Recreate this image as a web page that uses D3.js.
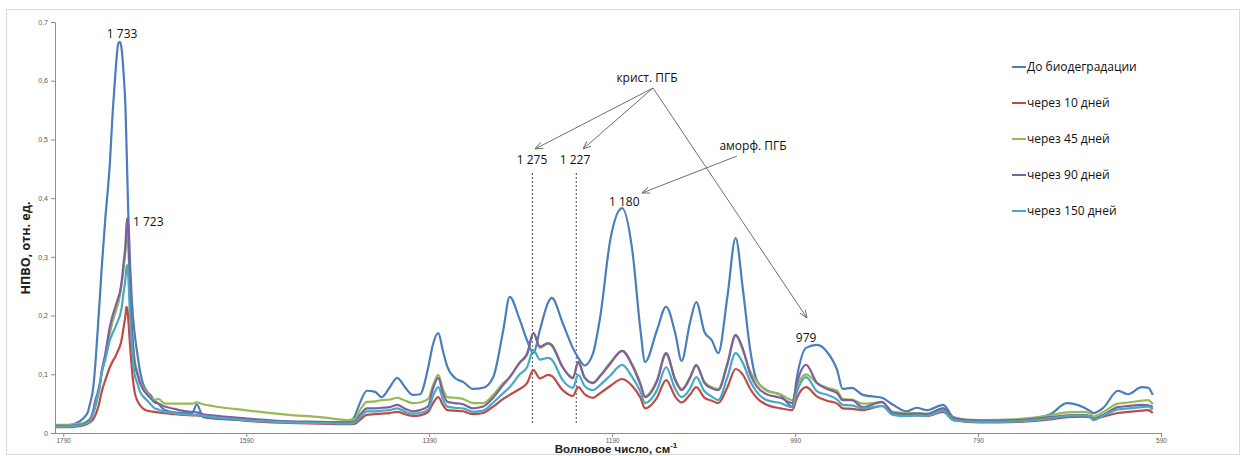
<!DOCTYPE html>
<html>
<head>
<meta charset="utf-8">
<script src="https://cdn.jsdelivr.net/npm/d3@7/dist/d3.min.js"></script>
<style>
  body { margin: 0; background: #fff; }
  svg { font-family: "Open Sans", sans-serif; }
</style>
</head>
<body>
<div id="chart-area"></div>
<script>
const WIDTH = 1245;
const HEIGHT = 456;

// wavenumbers (cm-1), shared by all series
const wavenumbers = [
  1799, 1786, 1777, 1768, 1763, 1761, 1757, 1755, 1753, 1750,
  1748, 1744, 1739, 1736, 1733, 1731, 1730, 1728, 1726, 1724,
  1722, 1721, 1720, 1719, 1717, 1715, 1712, 1709, 1706, 1703,
  1698, 1695, 1690, 1686, 1679, 1668, 1660, 1649, 1644, 1637,
  1627, 1591, 1544, 1509, 1479, 1471, 1466, 1458, 1449, 1442,
  1433, 1425, 1416, 1408, 1400, 1391, 1386, 1380, 1375, 1370,
  1362, 1353, 1342, 1331, 1320, 1309, 1302, 1291, 1283, 1276,
  1269, 1260, 1256, 1244, 1233, 1227, 1220, 1211, 1203, 1192,
  1179, 1168, 1159, 1154, 1141, 1131, 1121, 1114, 1105, 1098,
  1089, 1081, 1074, 1064, 1055, 1047, 1039, 1032, 1021, 1006,
  993, 988, 978, 966, 955, 944, 938, 928, 916, 895,
  883, 868, 857, 846, 828, 817, 788, 744, 711, 693,
  675, 668, 664, 653, 637, 626, 611, 604, 599
];

const before = [
  0.010, 0.012, 0.016, 0.025, 0.036, 0.048, 0.080, 0.115, 0.160, 0.230,
  0.280, 0.365, 0.460, 0.545, 0.612, 0.650, 0.663, 0.666, 0.652, 0.612,
  0.555, 0.500, 0.440, 0.380, 0.290, 0.225, 0.170, 0.135, 0.105, 0.085,
  0.070, 0.065, 0.055, 0.050, 0.039, 0.035, 0.034, 0.034, 0.049, 0.027,
  0.025, 0.022, 0.019, 0.018, 0.018, 0.030, 0.050, 0.072, 0.070, 0.061,
  0.078, 0.094, 0.077, 0.065, 0.066, 0.112, 0.150, 0.170, 0.140, 0.112,
  0.094, 0.087, 0.075, 0.077, 0.095, 0.175, 0.232, 0.193, 0.158, 0.136,
  0.175, 0.222, 0.230, 0.187, 0.145, 0.128, 0.115, 0.135, 0.198, 0.329,
  0.383, 0.312, 0.175, 0.121, 0.175, 0.215, 0.170, 0.123, 0.187, 0.223,
  0.172, 0.158, 0.136, 0.232, 0.332, 0.244, 0.141, 0.090, 0.073, 0.065,
  0.045, 0.095, 0.145, 0.150, 0.138, 0.107, 0.075, 0.077, 0.065, 0.060,
  0.048, 0.037, 0.043, 0.039, 0.048, 0.027, 0.019, 0.022, 0.032, 0.051,
  0.044, 0.038, 0.034, 0.043, 0.072, 0.066, 0.078, 0.077, 0.065
];

const days10 = [
  0.010, 0.010, 0.011, 0.013, 0.016, 0.018, 0.024, 0.030, 0.038, 0.055,
  0.070, 0.090, 0.112, 0.122, 0.130, 0.137, 0.141, 0.148, 0.160, 0.180,
  0.200, 0.215, 0.212, 0.195, 0.150, 0.110, 0.070, 0.055, 0.047, 0.042,
  0.038, 0.037, 0.036, 0.035, 0.034, 0.032, 0.031, 0.030, 0.030, 0.028,
  0.026, 0.021, 0.017, 0.016, 0.015, 0.016, 0.022, 0.031, 0.032, 0.033,
  0.034, 0.036, 0.032, 0.029, 0.030, 0.036, 0.050, 0.061, 0.048, 0.039,
  0.038, 0.037, 0.032, 0.034, 0.045, 0.058, 0.065, 0.075, 0.085, 0.107,
  0.093, 0.099, 0.097, 0.073, 0.063, 0.078, 0.066, 0.060, 0.068, 0.080,
  0.092, 0.080, 0.060, 0.042, 0.060, 0.090, 0.062, 0.052, 0.065, 0.078,
  0.060, 0.055, 0.051, 0.078, 0.109, 0.099, 0.075, 0.060, 0.048, 0.042,
  0.039, 0.060, 0.078, 0.062, 0.055, 0.050, 0.042, 0.041, 0.039, 0.046,
  0.032, 0.030, 0.030, 0.029, 0.036, 0.022, 0.018, 0.019, 0.023, 0.027,
  0.028, 0.027, 0.024, 0.028, 0.034, 0.036, 0.038, 0.039, 0.034
];

const days45 = [
  0.014, 0.014, 0.015, 0.017, 0.021, 0.024, 0.035, 0.045, 0.055, 0.080,
  0.100, 0.130, 0.170, 0.190, 0.205, 0.215, 0.220, 0.235, 0.255, 0.280,
  0.310, 0.335, 0.340, 0.320, 0.240, 0.180, 0.125, 0.105, 0.088, 0.078,
  0.068, 0.062, 0.056, 0.058, 0.050, 0.050, 0.050, 0.050, 0.052, 0.049,
  0.046, 0.039, 0.031, 0.027, 0.022, 0.024, 0.038, 0.053, 0.054, 0.056,
  0.057, 0.060, 0.055, 0.051, 0.052, 0.058, 0.080, 0.099, 0.075, 0.061,
  0.060, 0.058, 0.051, 0.051, 0.065, 0.085, 0.095, 0.120, 0.133, 0.170,
  0.145, 0.152, 0.148, 0.112, 0.095, 0.119, 0.095, 0.086, 0.098, 0.120,
  0.140, 0.117, 0.085, 0.063, 0.090, 0.134, 0.092, 0.075, 0.095, 0.114,
  0.087, 0.078, 0.075, 0.119, 0.165, 0.141, 0.105, 0.088, 0.072, 0.066,
  0.056, 0.080, 0.100, 0.085, 0.077, 0.072, 0.058, 0.057, 0.050, 0.052,
  0.036, 0.034, 0.034, 0.033, 0.042, 0.026, 0.022, 0.024, 0.030, 0.035,
  0.036, 0.034, 0.028, 0.036, 0.050, 0.052, 0.055, 0.056, 0.049
];

const days90 = [
  0.012, 0.012, 0.013, 0.015, 0.020, 0.022, 0.040, 0.055, 0.065, 0.085,
  0.105, 0.135, 0.181, 0.200, 0.215, 0.225, 0.230, 0.240, 0.260, 0.290,
  0.320, 0.350, 0.366, 0.350, 0.250, 0.180, 0.120, 0.100, 0.085, 0.075,
  0.065, 0.060, 0.052, 0.050, 0.045, 0.041, 0.038, 0.036, 0.035, 0.032,
  0.030, 0.025, 0.020, 0.019, 0.018, 0.020, 0.030, 0.042, 0.042, 0.043,
  0.044, 0.048, 0.041, 0.037, 0.039, 0.046, 0.075, 0.094, 0.068, 0.053,
  0.051, 0.049, 0.042, 0.045, 0.060, 0.082, 0.095, 0.120, 0.135, 0.170,
  0.147, 0.153, 0.150, 0.112, 0.093, 0.121, 0.094, 0.085, 0.097, 0.118,
  0.140, 0.115, 0.082, 0.061, 0.088, 0.136, 0.090, 0.073, 0.093, 0.116,
  0.085, 0.076, 0.073, 0.117, 0.167, 0.143, 0.100, 0.080, 0.066, 0.060,
  0.051, 0.085, 0.116, 0.085, 0.075, 0.068, 0.056, 0.056, 0.044, 0.053,
  0.034, 0.032, 0.033, 0.032, 0.042, 0.025, 0.021, 0.022, 0.027, 0.030,
  0.031, 0.029, 0.024, 0.031, 0.044, 0.046, 0.048, 0.047, 0.044
];

const days150 = [
  0.011, 0.011, 0.012, 0.014, 0.018, 0.020, 0.035, 0.045, 0.060, 0.080,
  0.102, 0.125, 0.158, 0.170, 0.180, 0.188, 0.192, 0.200, 0.215, 0.240,
  0.262, 0.280, 0.286, 0.270, 0.200, 0.150, 0.100, 0.085, 0.070, 0.063,
  0.055, 0.050, 0.042, 0.040, 0.036, 0.034, 0.032, 0.031, 0.031, 0.029,
  0.027, 0.022, 0.018, 0.017, 0.016, 0.018, 0.026, 0.037, 0.037, 0.038,
  0.039, 0.042, 0.036, 0.033, 0.034, 0.040, 0.062, 0.078, 0.058, 0.045,
  0.043, 0.042, 0.036, 0.038, 0.052, 0.068, 0.078, 0.100, 0.112, 0.141,
  0.125, 0.128, 0.125, 0.090, 0.077, 0.099, 0.080, 0.073, 0.082, 0.098,
  0.116, 0.095, 0.070, 0.051, 0.073, 0.112, 0.075, 0.061, 0.075, 0.095,
  0.071, 0.062, 0.056, 0.095, 0.136, 0.119, 0.088, 0.070, 0.056, 0.051,
  0.044, 0.070, 0.095, 0.071, 0.065, 0.057, 0.048, 0.047, 0.042, 0.046,
  0.031, 0.029, 0.030, 0.029, 0.038, 0.022, 0.019, 0.020, 0.025, 0.029,
  0.030, 0.028, 0.022, 0.030, 0.040, 0.042, 0.044, 0.045, 0.040
];

const seriesNames = ["До биодеградации", "через 10 дней", "через 45 дней", "через 90 дней", "через 150 дней"];
const seriesColors = ["#4a7ebb", "#be4b48", "#98b954", "#7d60a0", "#46aac5"];
const seriesValues = [before, days10, days45, days90, days150];

const xTicks = [1790, 1590, 1390, 1190, 990, 790, 590];
const yTicks = [0, 0.1, 0.2, 0.3, 0.4, 0.5, 0.6, 0.7];

// peak labels: [wavenumber, text, dx, y]
const peakLabels = [
  [1730, "1 733", 4, 38],
  [1720, "1 723", 21, 226],
  [1180, "1 180", 3, 206],
  [979, "979", 1, 342]
];
const dashedPeaks = [1275, 1227];

const svg = d3.select('#chart-area')
  .append('svg')
  .attr('width', WIDTH)
  .attr('height', HEIGHT);

// outer frame
svg.append('rect')
  .attr('x', 6.5).attr('y', 9.5)
  .attr('width', 1233).attr('height', 445)
  .attr('fill', 'none')
  .attr('stroke', '#d9d9d9');

const xScale = d3.scaleLinear().domain([1799, 590]).range([55, 1161]);
const yScale = d3.scaleLinear().domain([0, 0.7]).range([433, 22]);

// axes
const yAxisCall = d3.axisLeft(yScale)
  .tickValues(yTicks)
  .tickSize(4)
  .tickSizeOuter(0)
  .tickFormat(d => d === 0 ? "0" : d3.format(".1f")(d).replace('.', ','));
const yAxisGroup = svg.append('g')
  .attr('transform', 'translate(55,0)')
  .call(yAxisCall);

const xAxisCall = d3.axisBottom(xScale)
  .tickValues(xTicks)
  .tickSize(4)
  .tickPadding(1)
  .tickSizeOuter(0)
  .tickFormat(d => d);
const xAxisGroup = svg.append('g')
  .attr('transform', 'translate(0,433)')
  .call(xAxisCall);

[xAxisGroup, yAxisGroup].forEach(g => {
  g.selectAll('path, line').attr('stroke', '#8c8c8c');
  g.selectAll('text').attr('fill', '#595959').attr('font-size', '7px');
});
xAxisGroup.selectAll('text')
  .attr('font-family', '"Liberation Sans", sans-serif')
  .attr('font-size', '6.5px');

// axis titles
svg.append('text')
  .attr('transform', 'translate(30,248) rotate(-90)')
  .attr('text-anchor', 'middle')
  .attr('font-size', '12.5px')
  .attr('font-weight', 'bold')
  .attr('fill', '#222')
  .text('НПВО, отн. ед.');

const xTitle = svg.append('text')
  .attr('x', 616).attr('y', 453)
  .attr('text-anchor', 'middle')
  .attr('font-family', '"Liberation Sans", sans-serif')
  .attr('font-size', '11.5px')
  .attr('font-weight', 'bold')
  .attr('fill', '#222');
xTitle.append('tspan').text('Волновое число, см');
xTitle.append('tspan').attr('dy', -5).attr('font-size', '8px').text('-1');

// dashed markers for crystalline bands
svg.selectAll('.peak-dash')
  .data(dashedPeaks)
  .enter()
  .append('line')
  .attr('class', 'peak-dash')
  .attr('x1', d => xScale(d) - 2).attr('x2', d => xScale(d) - 2)
  .attr('y1', 173).attr('y2', 423)
  .attr('stroke', '#444')
  .attr('stroke-dasharray', '2,2');

// spectra
const line = d3.line()
  .x((d, i) => xScale(wavenumbers[i]))
  .y(d => yScale(d))
  .curve(d3.curveMonotoneX);

svg.selectAll('.spectrum')
  .data(seriesValues)
  .enter()
  .append('path')
  .attr('class', 'spectrum')
  .attr('d', d => line(d))
  .attr('fill', 'none')
  .attr('stroke', (d, i) => seriesColors[i])
  .attr('stroke-width', 2.2)
  .attr('stroke-linejoin', 'round');

// arrows
const defs = svg.append('defs');
defs.append('marker')
  .attr('id', 'arrow')
  .attr('viewBox', '0 0 10 10')
  .attr('refX', 10).attr('refY', 5)
  .attr('markerWidth', 8).attr('markerHeight', 8)
  .attr('markerUnits', 'userSpaceOnUse')
  .attr('orient', 'auto')
  .append('path')
  .attr('d', 'M0,1 L10,5 L0,9')
  .attr('fill', 'none')
  .attr('stroke', '#6f6f6f')
  .attr('stroke-width', 1.2);

const arrows = [
  [653, 88, 535, 149],
  [653, 88, 583, 149],
  [653, 88, 807, 318],
  [737, 156, 642, 193]
];
svg.selectAll('.arrow')
  .data(arrows)
  .enter()
  .append('line')
  .attr('class', 'arrow')
  .attr('x1', d => d[0]).attr('y1', d => d[1])
  .attr('x2', d => d[2]).attr('y2', d => d[3])
  .attr('stroke', '#6f6f6f')
  .attr('stroke-width', 1)
  .attr('marker-end', 'url(#arrow)');

// annotation text
const annText = [
  [647, 82, "крист. ПГБ"],
  [753, 150, "аморф. ПГБ"],
  [532, 164, "1 275"],
  [575, 164, "1 227"]
];
svg.selectAll('.ann')
  .data(annText)
  .enter()
  .append('text')
  .attr('class', 'ann')
  .attr('x', d => d[0]).attr('y', d => d[1])
  .attr('text-anchor', 'middle')
  .attr('font-size', '12px')
  .attr('fill', '#111')
  .text(d => d[2]);

svg.selectAll('.peak-label')
  .data(peakLabels)
  .enter()
  .append('text')
  .attr('class', 'peak-label')
  .attr('x', d => xScale(d[0]) + d[2])
  .attr('y', d => d[3])
  .attr('text-anchor', 'middle')
  .attr('font-size', '12px')
  .attr('fill', '#111')
  .text(d => d[1]);

// legend
const legend = svg.append('g').attr('transform', 'translate(1012,67)');
const legendItems = legend.selectAll('g')
  .data(seriesNames)
  .enter()
  .append('g')
  .attr('transform', (d, i) => `translate(0, ${i * 36})`);
legendItems.append('line')
  .attr('x1', 0).attr('x2', 14)
  .attr('stroke', (d, i) => seriesColors[i])
  .attr('stroke-width', 2);
legendItems.append('text')
  .attr('x', 15).attr('y', 4)
  .attr('font-size', '12px')
  .attr('fill', '#111')
  .text(d => d);
</script>
</body>
</html>
